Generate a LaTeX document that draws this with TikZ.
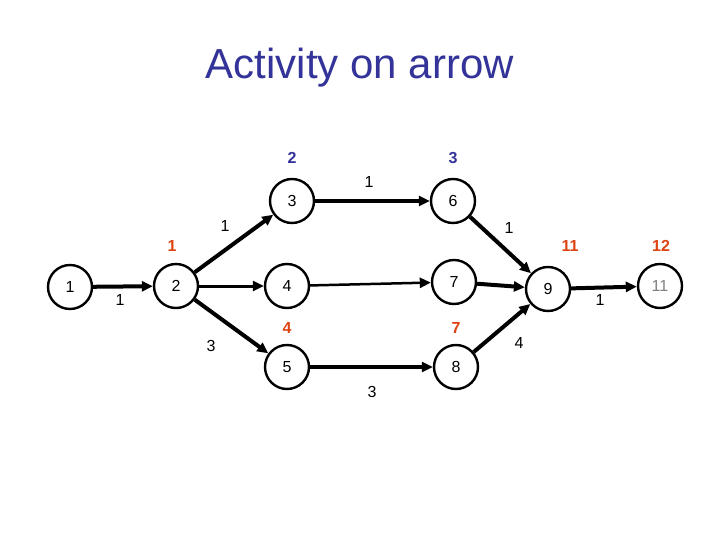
\documentclass[tikz,border=0pt]{standalone}
\usepackage{fontspec}
\setmainfont{Liberation Sans}
\usetikzlibrary{arrows.meta}
\begin{document}
\begin{tikzpicture}[x=1pt,y=-1pt,
  ev/.style={circle,draw,line width=2.4pt,minimum size=44pt,inner sep=0pt,font=\fontsize{16}{16}\selectfont},
  act/.style={-{Triangle[length=11pt,width=10pt]},line width=4pt},
  lab/.style={font=\fontsize{16}{16}\selectfont},
  red/.style={font=\bfseries\fontsize{16}{16}\selectfont,text={rgb,255:red,221;green,68;blue,17}},
  blu/.style={font=\bfseries\fontsize{16}{16}\selectfont,text={rgb,255:red,51;green,51;blue,153}}]
\useasboundingbox (0,0) rectangle (720,540);
\node[font=\fontsize{42}{42}\selectfont,text={rgb,255:red,51;green,51;blue,153}] (title) at (360,68) {Activity on arrow};
\node[ev] (n1) at (70,287) {1};
\node[ev] (n2) at (176,286) {2};
\node[ev] (n3) at (292,201) {3};
\node[ev] (n4) at (287,286) {4};
\node[ev] (n5) at (287,367) {5};
\node[ev] (n6) at (453,201) {6};
\node[ev] (n7) at (454,282) {7};
\node[ev] (n8) at (456,367) {8};
\node[ev] (n9) at (548,289) {9};
\node[ev,text=gray] (n11) at (660,286) {11};
\draw[act] (n1) -- (n2);
\draw[act] (n2) -- (n3);
\draw[act,line width=3pt] (n2) -- (n4);
\draw[act] (n2) -- (n5);
\draw[act] (n3) -- (n6);
\draw[act,line width=2.5pt] (n4) -- (n7);
\draw[act] (n5) -- (n8);
\draw[act] (n6) -- (n9);
\draw[act] (n7) -- (n9);
\draw[act] (n8) -- (n9);
\draw[act] (n9) -- (n11);
\node[blu] (b2) at (292,158) {2};
\node[blu] (b3) at (453,158) {3};
\node[red] (r1) at (172,246) {1};
\node[red] (r11) at (570,246) {11};
\node[red] (r12) at (661,246) {12};
\node[red] (r4) at (287,328) {4};
\node[red] (r7) at (456,328) {7};
\node[lab] (l1) at (120,300) {1};
\node[lab] (l2) at (225,226) {1};
\node[lab] (l3) at (369,182) {1};
\node[lab] (l4) at (509,228) {1};
\node[lab] (l5) at (211,346) {3};
\node[lab] (l6) at (372,392) {3};
\node[lab] (l7) at (519,343) {4};
\node[lab] (l8) at (600,300) {1};
\end{tikzpicture}
\end{document}
